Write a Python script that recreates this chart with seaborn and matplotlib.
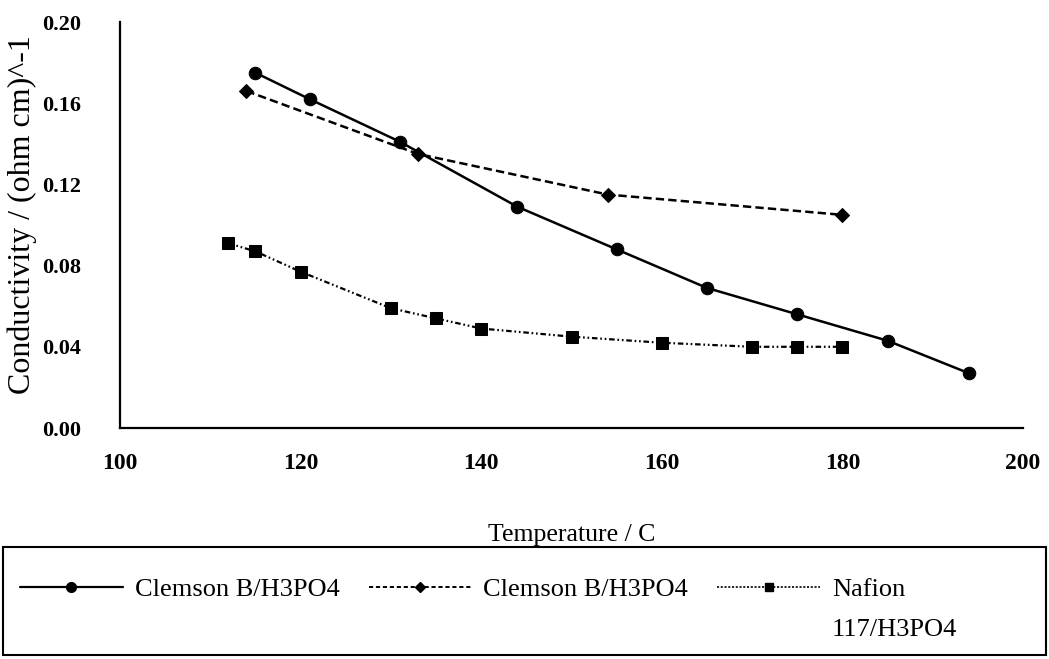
import matplotlib
matplotlib.use("Agg")
import matplotlib.pyplot as plt
from matplotlib.lines import Line2D
from matplotlib.patches import Rectangle
import seaborn as sns
import numpy as np

# ---- data ----
clemson1_temp = [115, 121, 131, 144, 155, 165, 175, 185, 194]
clemson1_cond = [0.175, 0.162, 0.141, 0.109, 0.088, 0.069, 0.056, 0.043, 0.027]

clemson2_temp = [114, 133, 154, 180]
clemson2_cond = [0.166, 0.135, 0.115, 0.105]

nafion_temp = [112, 115, 120, 130, 135, 140, 150, 160, 170, 175, 180]
nafion_cond = [0.091, 0.087, 0.077, 0.059, 0.054, 0.049, 0.045, 0.042, 0.040, 0.040, 0.040]

series_labels = ["Clemson B/H3PO4", "Clemson B/H3PO4", "Nafion", "117/H3PO4"]
x_ticks = [100, 120, 140, 160, 180, 200]
y_ticks = [0.00, 0.04, 0.08, 0.12, 0.16, 0.20]
x_label = "Temperature / C"
y_label = "Conductivity / (ohm cm)^-1"

# ---- style ----
sns.set_style("white")
plt.rcParams["font.family"] = ["Liberation Serif", "DejaVu Serif"]
plt.rcParams["lines.scale_dashes"] = False
plt.rcParams["text.color"] = "black"
plt.rcParams["axes.labelcolor"] = "black"
plt.rcParams["xtick.color"] = "black"
plt.rcParams["ytick.color"] = "black"

W, H = 1049, 659
fig = plt.figure(figsize=(W / 100, H / 100), dpi=100)
ax = fig.add_axes([120 / W, 1 - 428 / H, (1023 - 120) / W, (428 - 22) / H])

solid = "-"
dashed = (0, (6.0, 3.0))
dashdot = (0, (4.0, 2.0, 1.2, 2.0, 1.2, 2.0))

sns.lineplot(x=clemson1_temp, y=clemson1_cond, ax=ax, color="black", linewidth=1.8,
             linestyle=solid, marker="o", markersize=9, markeredgecolor="black",
             markerfacecolor="black", sort=False, legend=False)
sns.lineplot(x=clemson2_temp, y=clemson2_cond, ax=ax, color="black", linewidth=1.8,
             linestyle=dashed, marker="D", markersize=7, markeredgecolor="black",
             markerfacecolor="black", sort=False, legend=False)
sns.lineplot(x=nafion_temp, y=nafion_cond, ax=ax, color="black", linewidth=1.6,
             linestyle=dashdot, marker="s", markersize=9, markeredgecolor="black",
             markerfacecolor="black", sort=False, legend=False)

ax.set_xlim(100, 200)
ax.set_ylim(0, 0.20)
ax.set_xticks(x_ticks)
ax.set_yticks(y_ticks)
ax.set_xticklabels([str(t) for t in x_ticks], fontsize=17, fontweight="bold", color="black")
ax.set_yticklabels([f"{t:.2f}" for t in y_ticks], fontsize=16, fontweight="bold", color="black")
ax.tick_params(axis="both", direction="inout", length=8, width=1.3, color="black")
ax.tick_params(axis="y", pad=24)
ax.tick_params(axis="x", pad=14)

for s in ["top", "right"]:
    ax.spines[s].set_visible(False)
for s in ["left", "bottom"]:
    ax.spines[s].set_color("black")
    ax.spines[s].set_linewidth(1.6)
ax.grid(False)

ax.set_xlabel(x_label, fontsize=18.5, labelpad=36, color="black")
ax.set_ylabel(y_label, fontsize=23, color="black")
ax.yaxis.set_label_coords(-0.092, 0.525)

# ---- legend box ----
fig.patches.append(Rectangle((3 / W, 4 / H), 1043 / W, (655 - 547) / H,
                             transform=fig.transFigure, fill=False,
                             edgecolor="black", linewidth=1.5))

handles = [
    Line2D([], [], color="black", linewidth=1.6, linestyle=solid, marker="o",
           markersize=7, markerfacecolor="black", markeredgecolor="black"),
    Line2D([], [], color="black", linewidth=1.4, linestyle=(0, (3.0, 2.0)), marker="D",
           markersize=5.5, markerfacecolor="black", markeredgecolor="black"),
    Line2D([], [], color="black", linewidth=1.2, linestyle=(0, (1.5, 1.2)), marker="s",
           markersize=6, markerfacecolor="black", markeredgecolor="black"),
]
leg = fig.legend(handles, series_labels[:3], loc="upper left",
                 bbox_to_anchor=(20 / W, 1 - 578 / H), ncol=3, frameon=False,
                 fontsize=19, handlelength=3.9, handletextpad=0.45,
                 columnspacing=1.1, borderpad=0, borderaxespad=0)
for t in leg.get_texts():
    t.set_color("black")

fig.canvas.draw()
bb = leg.get_texts()[2].get_window_extent()
fig.text(bb.x0 / W, (bb.y0 - 40) / H, series_labels[3], fontsize=19,
         ha="left", va="bottom", color="black")

fig.savefig("out.png", dpi=100)
